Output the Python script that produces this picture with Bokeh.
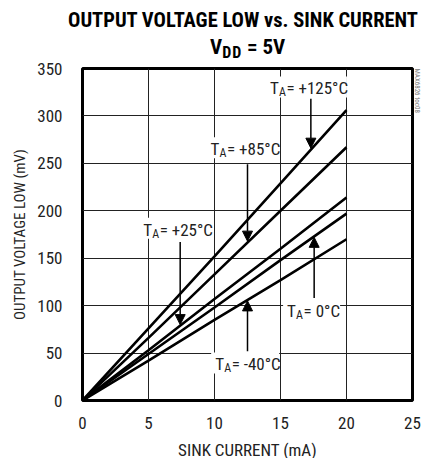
import math
from bokeh.plotting import figure
from bokeh.layouts import column
from bokeh.models import (Label, Arrow, NormalHead, FixedTicker, Range1d, Title, Div,
                          BoxAnnotation)
from bokeh.embed import file_html
from bokeh.resources import INLINE

# ---- data ----
sink_current = [0, 5, 10, 15, 20]
vol_125 = [0, 76, 152, 229, 306]
vol_85 = [0, 66, 133, 200, 267]
vol_25 = [0, 53, 107, 160, 214]
vol_0 = [0, 49, 98, 148, 197]
vol_m40 = [0, 42, 85, 127, 170]
series = [vol_125, vol_85, vol_25, vol_0, vol_m40]
x_ticks = [0, 5, 10, 15, 20, 25]
y_ticks = [0, 50, 100, 150, 200, 250, 300, 350]

# annotation labels: (text after subscript, T-left x, center y, arrow x, arrow y start,
#                     arrow y end, label width in px for its white background)
annotations = [
    (" = +125°C", 14.2, 329, 17.3, 318, 266, 74),
    (" = +85°C", 9.7, 265, 12.5, 249, 168, 66),
    (" = +25°C", 4.6, 180, 7.4, 167, 80, 66),
    (" = 0°C", 15.5, 94, 17.55, 108, 172, 50),
    (" = -40°C", 10.05, 38, 12.5, 52, 105, 61),
]

TITLE = "OUTPUT VOLTAGE LOW vs. SINK CURRENT"
FONT = "Roboto Condensed"
TXT = "#222222"
W = 422
FRAME_W, FRAME_H = 330, 332
XS = 25 / FRAME_W   # data units per pixel
YS = 350 / FRAME_H

# ---------------- header (title, HTML so the subscript is real text) ----------------
head = Div(
    text=(
        '<div style="position:relative;width:422px;height:58px;'
        "font-family:'Roboto Condensed',sans-serif;font-weight:bold;color:black;\">"
        '<div style="position:absolute;left:243px;top:8px;transform:translateX(-50%);'
        'white-space:nowrap;font-size:20.5px;line-height:24px;">' + TITLE + '</div>'
        '<div style="position:absolute;left:210px;top:35px;white-space:nowrap;'
        'font-size:21px;line-height:24px;">V<span style="font-size:16px;position:relative;'
        'top:4px;letter-spacing:1px;">DD</span> = 5V</div></div>'
    ),
    width=W, height=58, margin=(0, 0, 0, 0),
)

# ---------------- main plot ----------------
p = figure(frame_width=FRAME_W, frame_height=FRAME_H, x_range=Range1d(0, 25),
           y_range=Range1d(0, 350), output_backend="svg", toolbar_location=None,
           min_border_left=82, min_border_right=10, min_border_top=10, min_border_bottom=58)

p.outline_line_color = "black"
p.outline_line_width = 3
p.background_fill_color = "white"

for ax in (p.xaxis, p.yaxis):
    ax.axis_line_color = None
    ax.major_tick_line_color = None
    ax.minor_tick_line_color = None
    ax.major_tick_out = 0
    ax.major_tick_in = 0
    ax.minor_tick_out = 0
    ax.major_label_text_font = FONT
    ax.major_label_text_font_size = "17px"
    ax.major_label_text_color = TXT
    ax.axis_label_text_font = FONT
    ax.axis_label_text_font_style = "normal"
    ax.axis_label_text_color = TXT

p.xaxis.ticker = FixedTicker(ticks=x_ticks)
p.yaxis.ticker = FixedTicker(ticks=y_ticks)
p.xaxis.major_label_standoff = 16
p.yaxis.major_label_standoff = 20

p.yaxis.axis_label = "OUTPUT VOLTAGE LOW (mV)"
p.yaxis.axis_label_text_font_size = "15px"
p.yaxis.axis_label_standoff = 5

p.xaxis.axis_label = "SINK CURRENT (mA)"
p.xaxis.axis_label_text_font_size = "17px"
p.xaxis.axis_label_standoff = 8

p.xgrid.ticker = FixedTicker(ticks=x_ticks)
p.ygrid.ticker = FixedTicker(ticks=y_ticks)
p.grid.grid_line_color = "#222222"
p.grid.grid_line_width = 1

for ys in series:
    p.line(sink_current, ys, line_color="black", line_width=2.6)

# watermark on the right side
wm = Title(text="MAX6826 toc08", text_font=FONT, text_font_size="7px",
           text_font_style="normal", text_color="#777777", align="left", standoff=0, offset=0)
p.add_layout(wm, "right")

# white boxes that break the grid behind each label
for rest, lx, ly, axx, ay0, ay1, wpx in annotations:
    p.add_layout(BoxAnnotation(left=lx - 4 * XS, right=lx + (wpx + 3) * XS,
                               bottom=ly - 9 * YS, top=ly + 12 * YS,
                               fill_color="white", fill_alpha=1.0, line_color=None))

for rest, lx, ly, axx, ay0, ay1, wpx in annotations:
    p.add_layout(Arrow(x_start=axx, y_start=ay0, x_end=axx, y_end=ay1, line_width=1.5,
                       line_color="black",
                       end=NormalHead(size=10, fill_color="black", line_color="black")))
    p.add_layout(Label(x=lx, y=ly, text="T", text_align="left", text_baseline="middle",
                       text_font=FONT, text_font_size="17px", text_color=TXT))
    p.add_layout(Label(x=lx, y=ly, x_offset=9, y_offset=-4, text="A", text_align="left",
                       text_baseline="middle", text_font=FONT, text_font_size="12px",
                       text_color=TXT))
    p.add_layout(Label(x=lx, y=ly, x_offset=16.5, text=rest, text_align="left",
                       text_baseline="middle", text_font=FONT, text_font_size="17px",
                       text_color=TXT))

layout = column(head, p, spacing=0)
open("out.html", "w").write(file_html(layout, INLINE))
